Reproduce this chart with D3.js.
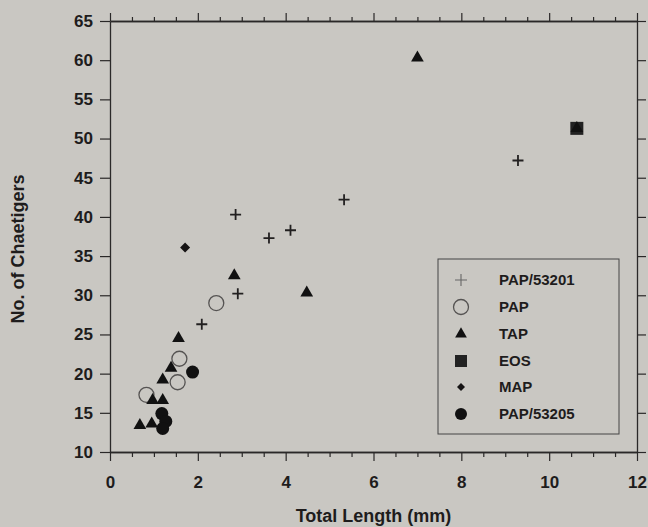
<!DOCTYPE html>
<html><head><meta charset="utf-8">
<script src="https://cdn.jsdelivr.net/npm/d3@7"></script>
<style>
html,body{margin:0;padding:0;background:#c9c7c2;}
svg{display:block;}
text{font-family:"Liberation Sans",Arial,sans-serif;fill:#1e1c1c;}
</style></head><body>
<svg id="chart" width="648" height="527"></svg>
<script>
// Data (Total Length mm, No. of Chaetigers)
const pap53201 = [[2.09,26.3],[2.86,40.3],[2.91,30.2],[3.62,37.3],[4.11,38.3],[5.33,42.2],[9.29,47.2]];
const pap = [[0.83,17.3],[1.54,18.9],[1.58,21.9],[2.42,29.0]];
const eos = [[10.63,51.3]];
const tap = [[0.68,13.4],[0.95,13.6],[0.97,16.6],[1.2,16.6],[1.2,19.2],[1.39,20.7],[1.56,24.5],[2.83,32.5],[4.48,30.3],[7.0,60.3],[10.63,51.3]];
const map = [[1.71,36.1]];
const pap53205 = [[1.18,14.9],[1.27,13.9],[1.2,13.0],[1.88,20.2]];
const xTicks = [0,2,4,6,8,10,12];
const yTicks = [10,15,20,25,30,35,40,45,50,55,60,65];
const legendLabels = ["PAP/53201","PAP","TAP","EOS","MAP","PAP/53205"];

const svg = d3.select("#chart");
const L=110, R=637, T=21, B=452;
const x = d3.scaleLinear().domain([0,12]).range([L,R]);
const y = d3.scaleLinear().domain([10,65]).range([B,T]);
const minorX = d3.range(0,12.01,0.5).filter(v=>xTicks.indexOf(v)<0);
const ink="#2a2828";

function styleAxis(g){
  g.selectAll("path.domain").attr("stroke",ink).attr("stroke-width",1.3);
  g.selectAll(".tick line").attr("stroke",ink).attr("stroke-width",1.2);
  g.selectAll("text").attr("font-size",17).attr("font-weight","bold").attr("fill","#1e1c1c").attr("font-family","Liberation Sans, Arial, sans-serif");
}
// bottom
svg.append("g").attr("transform",`translate(0,${B})`)
  .call(d3.axisBottom(x).tickValues(xTicks).tickSize(9).tickSizeOuter(0).tickPadding(15).tickFormat(d3.format("d"))).call(styleAxis);
svg.append("g").attr("transform",`translate(0,${B})`)
  .call(d3.axisBottom(x).tickValues(minorX).tickSize(5).tickSizeOuter(0).tickFormat("")).call(styleAxis);
// top
svg.append("g").attr("transform",`translate(0,${T})`)
  .call(d3.axisTop(x).tickValues(xTicks).tickSize(8).tickSizeOuter(0).tickFormat("")).call(styleAxis);
svg.append("g").attr("transform",`translate(0,${T})`)
  .call(d3.axisTop(x).tickValues(minorX).tickSize(4).tickSizeOuter(0).tickFormat("")).call(styleAxis);
// left
svg.append("g").attr("transform",`translate(${L},0)`)
  .call(d3.axisLeft(y).tickValues(yTicks).tickSize(10).tickSizeOuter(0).tickPadding(7).tickFormat(d3.format("d"))).call(styleAxis);
// right
svg.append("g").attr("transform",`translate(${R},0)`)
  .call(d3.axisRight(y).tickValues(yTicks).tickSize(9).tickSizeOuter(0).tickFormat("")).call(styleAxis);

// axis titles
svg.append("text").attr("x",(L+R)/2).attr("y",522).attr("text-anchor","middle")
  .attr("font-size",18).attr("font-weight","bold").text("Total Length (mm)");
svg.append("text").attr("transform","translate(24,249) rotate(-90)").attr("text-anchor","middle")
  .attr("font-size",18).attr("font-weight","bold").text("No. of Chaetigers");

// symbols
const sym = {
  plus: (g,s)=>g.append("path").attr("d",`M${-s},0H${s}M0,${-s}V${s}`).attr("stroke","#222020").attr("stroke-width",1.8).attr("fill","none"),
  open: (g,r)=>g.append("circle").attr("r",r).attr("fill","none").attr("stroke","#555352").attr("stroke-width",1.3),
  tri: (g,s)=>g.append("path").attr("d",d3.symbol(d3.symbolTriangle,s)()).attr("fill","#111"),
  sq: (g,s)=>g.append("rect").attr("x",-s/2).attr("y",-s/2).attr("width",s).attr("height",s).attr("fill","#222"),
  dia: (g,s)=>g.append("path").attr("d",`M0,${-s}L${s},0L0,${s}L${-s},0Z`).attr("fill","#161414"),
  dot: (g,r)=>g.append("circle").attr("r",r).attr("fill","#111")
};
function plot(data,fn,size){
  data.forEach(d=>{
    const g = svg.append("g").attr("transform",`translate(${x(d[0])},${y(d[1])})`);
    fn(g,size);
  });
}
plot(eos,sym.sq,13);
plot(pap,sym.open,7.5);
plot(tap,sym.tri,70);
plot(pap53205,sym.dot,6.5);
plot(map,sym.dia,5);
plot(pap53201,sym.plus,5.5);

// legend
const lg = svg.append("g");
lg.append("rect").attr("x",438).attr("y",259).attr("width",181).attr("height",175)
  .attr("fill","none").attr("stroke","#444").attr("stroke-width",1);
const rows=[280,307,334,361,387,414];
const fns=[[sym.plus,6],[sym.open,7.5],[sym.tri,60],[sym.sq,12],[sym.dia,4],[sym.dot,6]];
legendLabels.forEach((t,i)=>{
  const g = lg.append("g").attr("transform",`translate(461,${rows[i]})`);
  fns[i][0](g,fns[i][1]);
  if(i===0) g.select("path").attr("stroke","#666").attr("stroke-width",1.1);
  lg.append("text").attr("x",499).attr("y",rows[i]).attr("dy","0.36em")
    .attr("font-size",15).attr("font-weight","bold").text(t);
});
</script></body></html>
